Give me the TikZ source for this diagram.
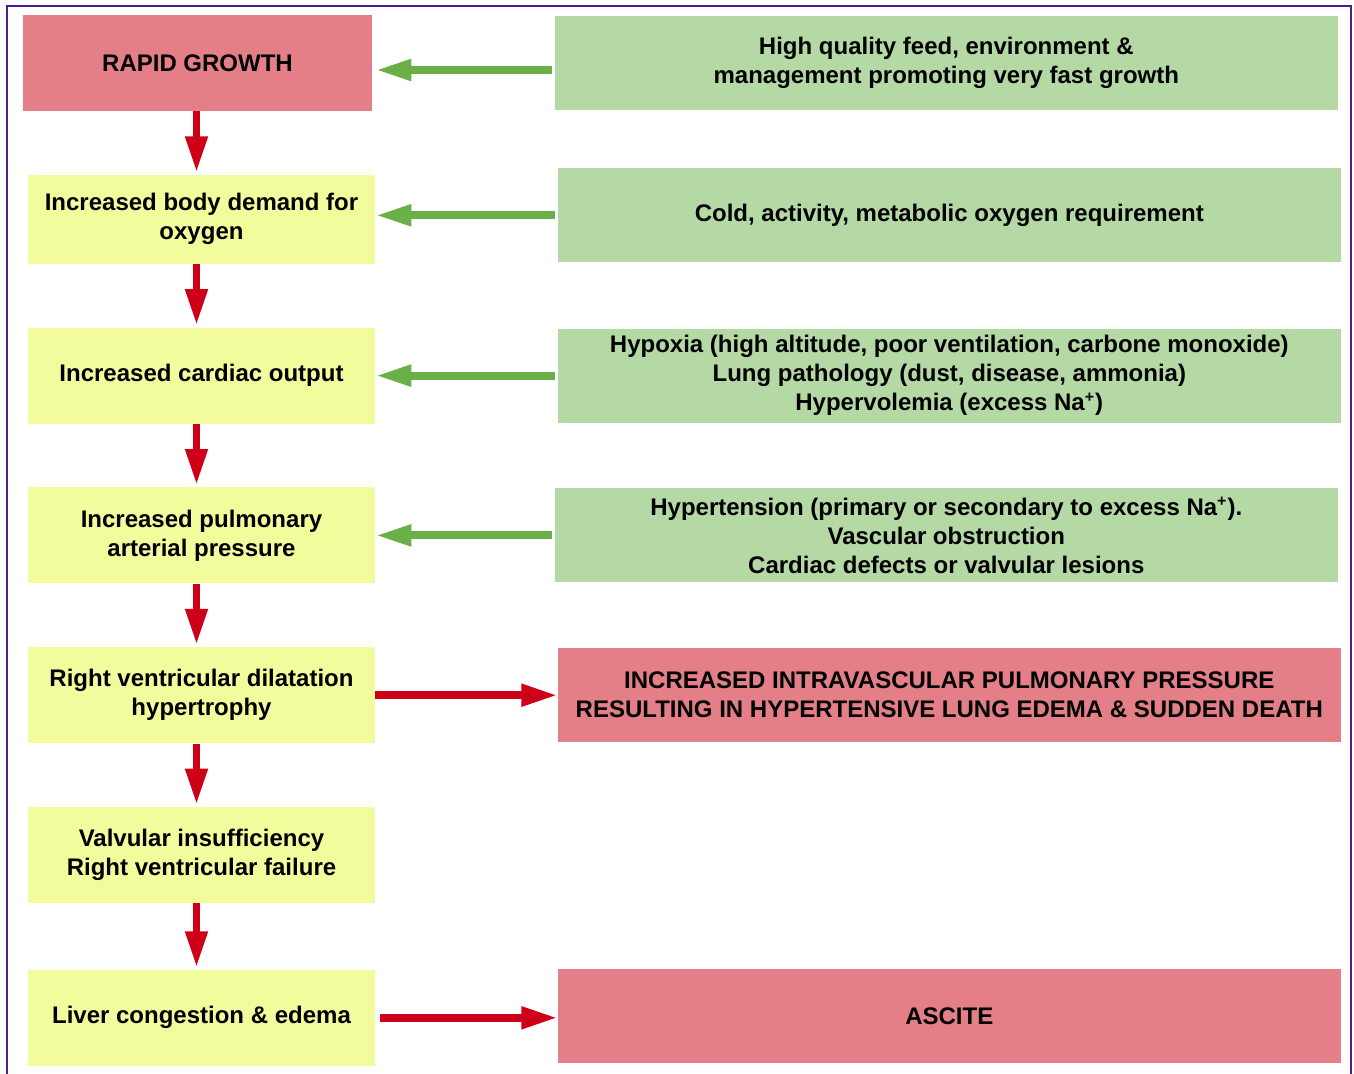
\documentclass[tikz,border=0pt]{standalone}
\usepackage{fontspec}
\setmainfont{Liberation Sans}
\usetikzlibrary{arrows.meta, positioning}
\definecolor{pinkbox}{HTML}{E47F88}
\definecolor{yellowbox}{HTML}{F3FC9C}
\definecolor{greenbox}{HTML}{B5D9A5}
\definecolor{greenarrow}{HTML}{6AB046}
\definecolor{redarrow}{HTML}{CE0018}
\definecolor{framecol}{HTML}{4B1C8C}

\begin{document}
\begin{tikzpicture}[x=0.5pt, y=-0.5pt, font=\bfseries\fontsize{12}{14.5}\selectfont,
    node distance=31.5pt and 91pt,
    step box/.style={fill=yellowbox, minimum width=173.5pt, minimum height=48pt, align=center, inner sep=2pt},
    cause box/.style={fill=greenbox, minimum width=391.5pt, minimum height=47pt, align=center, inner sep=2pt},
    alarm box/.style={fill=pinkbox, minimum width=391.5pt, minimum height=47pt, align=center, inner sep=2pt},
    red arrow/.style={draw=redarrow, line width=3.75pt, -{Triangle[length=18pt, width=10.5pt]}},
    green arrow/.style={draw=greenarrow, line width=4pt, -{Triangle[length=18pt, width=10pt]}}]
    \useasboundingbox (0,0) rectangle (1354,1073);
    \draw[framecol, line width=1.25pt] (7,1090) -- (7,6) -- (1351,6) -- (1351,1090);

    % left column
    \node[step box, fill=pinkbox, minimum width=174.5pt] (growth) at (197.5,63) {RAPID GROWTH};
    \node[step box, minimum height=44.5pt, below=of growth, xshift=2pt] (demand) {Increased body demand for\\oxygen};
    \node[step box, below=of demand] (cardiac) {Increased cardiac output};
    \node[step box, below=of cardiac] (pulmo) {Increased pulmonary\\arterial pressure};
    \node[step box, below=of pulmo] (dilat) {Right ventricular dilatation\\hypertrophy};
    \node[step box, below=of dilat] (failure) {Valvular insufficiency\\Right ventricular failure};
    \node[step box, below=33pt of failure] (liver) {Liver congestion \& edema};

    % right column
    \node[cause box, right=of growth] (feed) {High quality feed, environment \&\\management promoting very fast growth};
    \node[cause box, right=of demand, yshift=2pt] (cold) {Cold, activity, metabolic oxygen requirement};
    \node[cause box, right=of cardiac] (hypoxia) {Hypoxia (high altitude, poor ventilation, carbone monoxide)\\Lung pathology (dust, disease, ammonia)\\Hypervolemia (excess Na\textsuperscript{+})};
    \node[cause box, right=of pulmo, xshift=-1.5pt] (hypert) {Hypertension (primary or secondary to excess Na\textsuperscript{+}).\\Vascular obstruction\\Cardiac defects or valvular lesions};
    \node[alarm box, right=of dilat] (death) {INCREASED INTRAVASCULAR PULMONARY PRESSURE\\RESULTING IN HYPERTENSIVE LUNG EDEMA \& SUDDEN DEATH};
    \node[alarm box, right=of liver, yshift=1pt] (ascite) {ASCITE};

    % chain
    \foreach \a/\b in {growth/demand, demand/cardiac, cardiac/pulmo, pulmo/dilat, dilat/failure, failure/liver}
        \draw[red arrow, shorten >=1pt] ([xshift=-2.5pt]\b.north |- \a.south) -- ([xshift=-2.5pt]\b.north);

    % causes
    \draw[green arrow, shorten <=1pt, shorten >=1.5pt] ([yshift=-3.5pt]feed.west) -- ([yshift=-3.5pt]growth.east);
    \foreach \a/\b in {cold/demand, hypoxia/cardiac, hypert/pulmo}
        \draw[green arrow, shorten <=1pt] (\a.west) -- (\a.west -| \b.east);

    % outcomes
    \draw[red arrow] (dilat.east) -- (dilat.east -| death.west);
    \draw[red arrow, shorten <=2.5pt] (liver.east) -- (liver.east -| ascite.west);
\end{tikzpicture}
\end{document}
